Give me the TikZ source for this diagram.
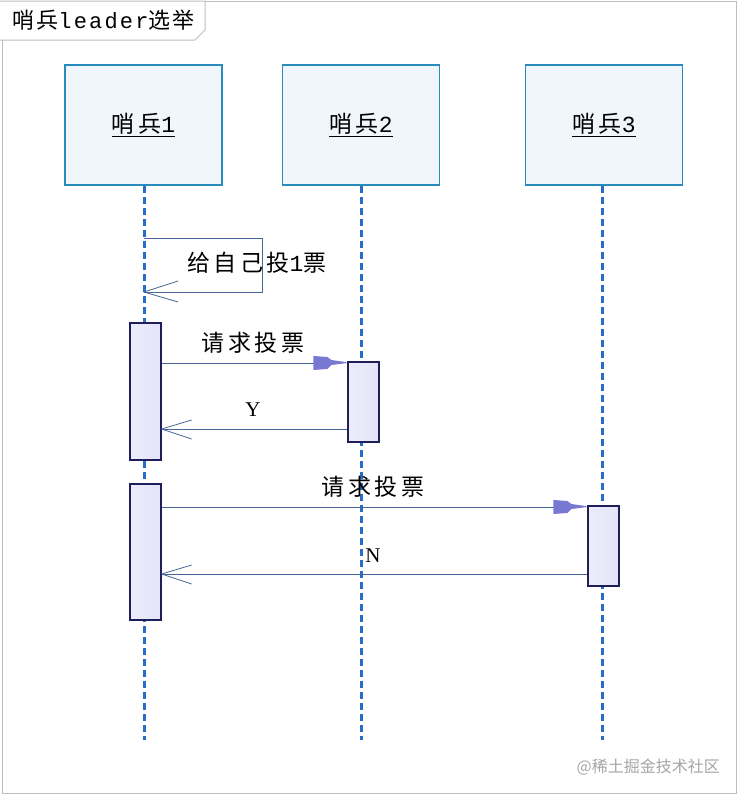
\documentclass[tikz,border=0pt]{standalone}
\usepackage{fontspec}
\setmainfont{Liberation Serif}
\newfontfamily\cjk[LetterSpace=15]{Noto Sans CJK SC}
\newfontfamily\cjkt[LetterSpace=10]{Noto Sans CJK SC}
\newfontfamily\cjkw{Noto Sans CJK SC}
\newfontfamily\monof{Liberation Mono}
\newfontfamily\monot[LetterSpace=10]{Liberation Mono}
\usetikzlibrary{calc}
\definecolor{boxedge}{RGB}{40,140,190}
\definecolor{boxfill}{RGB}{240,246,252}
\definecolor{lifeblue}{RGB}{40,110,200}
\definecolor{actedge}{RGB}{30,30,90}
\definecolor{actfill}{RGB}{228,228,250}
\definecolor{msgcol}{RGB}{70,100,150}
\definecolor{headcol}{RGB}{120,120,210}
\definecolor{framegray}{RGB}{190,190,190}
\tikzset{
  actor/.style={draw=boxedge,line width=1.3pt,fill=boxfill,minimum width=157pt,minimum height=120pt,inner sep=0pt,font=\fontsize{23}{25}\selectfont\cjk},
  lifeline/.style={draw=lifeblue,line width=3pt,dash pattern=on 7pt off 4pt},
  act/.style={draw=actedge,line width=1.3pt,left color=actfill!70!white,right color=actfill,minimum width=31pt,inner sep=0pt},
  msg/.style={draw=msgcol,line width=1pt},
  opentip/.style={draw=msgcol,line width=0.8pt},
  lbl/.style={font=\fontsize{23}{25}\selectfont\cjk,inner sep=0pt},
  lat/.style={font=\fontsize{21}{23}\selectfont,inner sep=0pt}
}
\begin{document}
\begin{tikzpicture}[x=1pt,y=-1pt]
\useasboundingbox (0,0) rectangle (740,798);
\fill[white] (0,0) rectangle (740,798);
\draw[framegray,line width=1pt] (2,1) rectangle (736,793);
% title tab
\draw[framegray,line width=1pt,fill=white] (0,1) -- (205,1) -- (205,30) -- (195,40) -- (0,40);
\node[anchor=west,inner sep=0pt,font=\fontsize{22}{24}\selectfont] (title) at (12,20) {{\cjkt 哨兵}{\monot leader}{\cjkt 选举}};
% actors
\node[actor] (s1) at (143.5,125) {\underline{哨兵{\monof 1}}};
\node[actor] (s2) at (361,125) {\underline{哨兵{\monof 2}}};
\node[actor] (s3) at (604,125) {\underline{哨兵{\monof 3}}};
\coordinate (e1) at (144,740);
\coordinate (e2) at (361,740);
\coordinate (e3) at (602,740);
\draw[lifeline] (s1.south -| e1) -- (e1);
\draw[lifeline] (s2.south -| e2) -- (e2);
\draw[lifeline] (s3.south -| e3) -- (e3);
% activations
\node[act,minimum height=137pt] (a1) at (145.5,391.5) {};
\node[act,minimum height=80pt] (a2) at (363.5,402) {};
\node[act,minimum height=136pt] (a3) at (145.5,552) {};
\node[act,minimum height=80pt] (a4) at (603.5,546) {};
% self message
\coordinate (sm0) at (144,238);
\coordinate (sm1) at (262,238);
\coordinate (sm2) at (262,292);
\coordinate (sm3) at (144,292);
\draw[msg] (sm0) -- (sm1) -- (sm2) -- (sm3);
\draw[opentip] (178,281) -- (sm3) -- (178,302);
\node[lbl,anchor=west] (t0) at (187,263) {给自己投{\monof 1}票};
% message 1
\coordinate (m1a) at (a1.east |- 0,363);
\coordinate (m1b) at (a2.west |- 0,363);
\draw[msg] (m1a) -- ($(m1b)+(-33,0)$);
\fill[headcol] ($(m1b)+(-34,-7)$) -- ($(m1b)+(-20,-6)$) -- ($(m1b)+(-16,-3)$) -- ($(m1b)+(-2,-1)$) -- (m1b) -- ($(m1b)+(-16,2)$) -- ($(m1b)+(-20,6)$) -- ($(m1b)+(-34,7)$) -- cycle;
\node[lbl] (t1) at (253,343) {请求投票};
% reply Y
\coordinate (r1a) at (a2.west |- 0,429);
\coordinate (r1b) at (a1.east |- 0,429);
\draw[msg] (r1a) -- (r1b);
\draw[opentip] ($(r1b)+(30,-9)$) -- (r1b) -- ($(r1b)+(30,10)$);
\node[lat] (t2) at (253,410) {Y};
% message 2
\coordinate (m2a) at (a3.east |- 0,507);
\coordinate (m2b) at (a4.west |- 0,507);
\draw[msg] (m2a) -- ($(m2b)+(-33,0)$);
\fill[headcol] ($(m2b)+(-34,-7)$) -- ($(m2b)+(-20,-6)$) -- ($(m2b)+(-16,-3)$) -- ($(m2b)+(-2,-1)$) -- (m2b) -- ($(m2b)+(-16,2)$) -- ($(m2b)+(-20,6)$) -- ($(m2b)+(-34,7)$) -- cycle;
\node[lbl] (t3) at (373,487) {请求投票};
% reply N
\coordinate (r2a) at (a4.west |- 0,574);
\coordinate (r2b) at (a3.east |- 0,574);
\draw[msg] (r2a) -- (r2b);
\draw[opentip] ($(r2b)+(30,-9)$) -- (r2b) -- ($(r2b)+(30,10)$);
\node[lat] (t4) at (373,556) {N};
% watermark
\node[anchor=east,inner sep=0pt,text=gray!70,font=\fontsize{16}{18}\selectfont\cjkw] (wm) at (720,767) {@稀土掘金技术社区};
\end{tikzpicture}
\end{document}
